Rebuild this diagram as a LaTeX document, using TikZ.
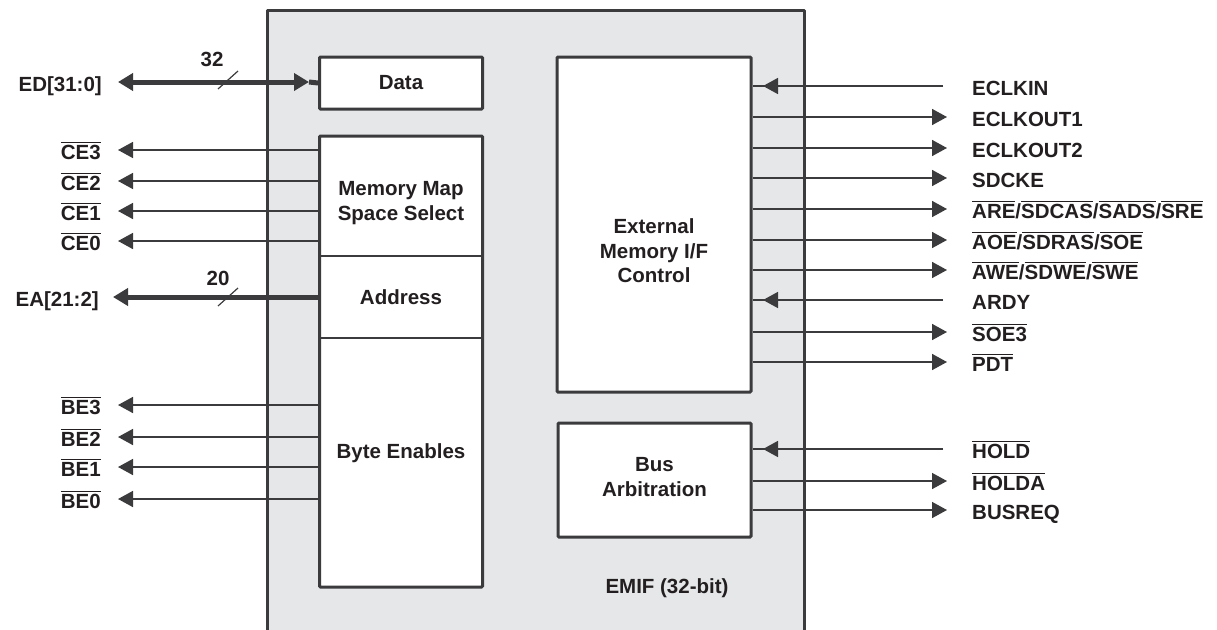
\documentclass[tikz,border=0pt]{standalone}
\usepackage{fontspec}
\setmainfont{Liberation Sans}
\usetikzlibrary{arrows.meta}
\definecolor{ink}{HTML}{231F20}
\definecolor{wire}{HTML}{3B3B3D}
\definecolor{panel}{HTML}{E6E7E8}
% active-low signal name: bar over the text
\newcommand\nb[1]{\setbox0\hbox{#1}\rlap{\rule[\dimexpr\ht0+2.2pt\relax]{\wd0}{1pt}}\box0}
\begin{document}
\begin{tikzpicture}[x=1pt,y=-1pt,
  font=\fontsize{20.5}{24.5}\selectfont\bfseries, text=ink,
  blk/.style={draw=wire, line width=3pt, fill=white, rounded corners=1pt, inner sep=0pt, align=center},
  sig/.style={draw=wire, line width=1.6pt},
  bus/.style={draw=wire, line width=5pt},
  tip/.style={-{Triangle[length=15pt,width=16pt]}},
  lbl/.style={inner sep=0pt},
  txt/.style={inner sep=0pt, align=center}]

\useasboundingbox (0,0) rectangle (1217,629);

% EMIF panel (open at the bottom)
\fill[panel] (267,10) rectangle (804,640);
\draw[wire, line width=3pt, line join=round] (267,640) -- (267,10) -- (804,10) -- (804,640);

% inner blocks
\node[blk, minimum width=163pt, minimum height=52pt] (data) at (401,83) {};
\node[txt] (datat) at (data.center) {Data};
\node[blk, minimum width=163pt, minimum height=451pt] (mem) at (401,361.5) {};
\draw[sig, line width=1.2pt] (mem.west |- 0,256) -- (mem.east |- 0,256);
\draw[sig, line width=1.2pt] (mem.west |- 0,338) -- (mem.east |- 0,338);
\node[txt] (mmap) at (401,203) {Memory Map\\Space Select};
\node[txt] (addr) at (401,297) {Address};
\node[txt] (byte) at (401,453) {Byte Enables};

\node[blk, minimum width=194pt, minimum height=335pt] (ext) at (654,224.5) {};
\node[txt] (extt) at (654,251) {External\\Memory I/F\\Control};
\node[blk, minimum width=193pt, minimum height=114pt] (arb) at (654.5,480) {};
\node[txt] (arbt) at (654.5,477) {Bus\\Arbitration};
\node[txt] (emif) at (667,588) {EMIF (32-bit)};

% data bus
\coordinate (edend) at (118,82);
\coordinate (edtip) at (309,82);
\draw[bus, {Triangle[length=15pt,width=17pt]}-{Triangle[length=15pt,width=17pt]}] (edend) -- (edtip);
\draw[bus] (edtip) -- (data.west);
\node[lbl, anchor=base east] (ed) at (102,91.5) {ED[31:0]};
\draw[wire, line width=1.2pt] (218,89) -- (238,71);
\node[txt] (w32) at (212,59) {32};

% address bus
\coordinate (eaend) at (113,297);
\draw[bus, -{Triangle[length=15pt,width=17pt]}] (mem.west |- eaend) -- (eaend);
\node[lbl, anchor=base east] (ea) at (99,306.5) {EA[21:2]};
\draw[wire, line width=1.2pt] (218,306) -- (238,288);
\node[txt] (w20) at (218,278) {20};

% chip enables and byte enables
\foreach \y/\n in {150/CE3,181/CE2,211/CE1,241/CE0,405/BE3,437/BE2,467/BE1,499/BE0}{
  \coordinate (end\n) at (118,\y);
  \draw[sig, tip] (mem.west |- end\n) -- (end\n);
  \node[lbl, anchor=base east] (lab\n) at (101,\y+9.5) {\nb{\n}};
}

% outputs of the control block
\foreach \y/\n/\t in {117/ck1/ECLKOUT1,148/ck2/ECLKOUT2,178/cke/SDCKE,
    209/are/{\nb{ARE}/\nb{SDCAS}/\nb{SADS}/\nb{SRE}},
    240/aoe/{\nb{AOE}/\nb{SDRAS}/\nb{SOE}},
    270/awe/{\nb{AWE}/\nb{SDWE}/\nb{SWE}},
    332/soe/{\nb{SOE3}},362/pdt/{\nb{PDT}}}{
  \coordinate (end\n) at (947,\y);
  \draw[sig, tip] (ext.east |- end\n) -- (end\n);
  \node[lbl, anchor=base west] (lab\n) at (972,\y+9.5) {\t};
}

% inputs of the control block
\foreach \y/\n/\t in {86/ckin/ECLKIN,300/ardy/ARDY}{
  \coordinate (src\n) at (943,\y);
  \coordinate (tip\n) at (763,\y);
  \draw[sig] (src\n) -- (ext.east |- src\n);
  \draw[sig, tip] (src\n) -- (tip\n);
  \node[lbl, anchor=base west] (lab\n) at (972,\y+9.5) {\t};
}

% bus arbitration signals
\coordinate (srchold) at (943,449);
\coordinate (tiphold) at (763,449);
\draw[sig] (srchold) -- (arb.east |- srchold);
\draw[sig, tip] (srchold) -- (tiphold);
\node[lbl, anchor=base west] (labhold) at (972,458.5) {\nb{HOLD}};
\foreach \y/\n/\t in {481/holda/{\nb{HOLDA}},510/busreq/BUSREQ}{
  \coordinate (end\n) at (947,\y);
  \draw[sig, tip] (arb.east |- end\n) -- (end\n);
  \node[lbl, anchor=base west] (lab\n) at (972,\y+9.5) {\t};
}
\end{tikzpicture}
\end{document}
